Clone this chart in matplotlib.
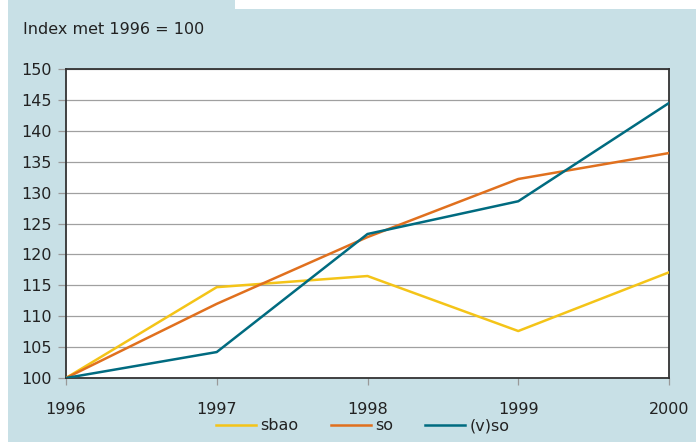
import matplotlib
matplotlib.use("Agg")
import matplotlib.pyplot as plt
from matplotlib.patches import Rectangle

years = [1996, 1997, 1998, 1999, 2000]
sbao = [100, 114.7, 116.5, 107.6, 117.1]
so = [100, 112.0, 122.8, 132.2, 136.4]
vso = [100, 104.2, 123.3, 128.6, 144.5]
yticks = [100, 105, 110, 115, 120, 125, 130, 135, 140, 145, 150]

bg = '#c8e0e6'
txt = '#222222'
plt.rcParams['font.family'] = ['DejaVu Sans']

fig = plt.figure(figsize=(6.96, 4.42), dpi=100)
fig.patch.set_facecolor('white')
# blue panel with white notch at the top right
fig.patches.append(Rectangle((8/696, 0), 1, 1, transform=fig.transFigure,
                             facecolor=bg, edgecolor='none', zorder=-2))
fig.patches.append(Rectangle((235/696, 1-9/442), 1, 9/442, transform=fig.transFigure,
                             facecolor='white', edgecolor='none', zorder=-1))

ax = fig.add_axes([66/696, 64/442, 603/696, 309/442])
ax.set_facecolor('white')
ax.plot(years, sbao, color='#f4c418', lw=1.8, label='sbao', zorder=3)
ax.plot(years, so, color='#e0701e', lw=1.8, label='so', zorder=3)
ax.plot(years, vso, color='#006b80', lw=1.8, label='(v)so', zorder=4)

ax.set_xlim(1996, 2000)
ax.set_ylim(100, 150)
ax.set_xticks(years)
ax.set_yticks(yticks)
ax.yaxis.grid(True, color='#a0a0a0', lw=0.9)
ax.set_axisbelow(True)
for s in ax.spines.values():
    s.set_color('#333333')
    s.set_linewidth(1.3)
ax.tick_params(axis='y', length=6, color='#999999', width=0.9, pad=4, labelsize=11.5, labelcolor=txt)
ax.tick_params(axis='x', length=5, color='#999999', width=0.9, pad=12, labelsize=11.5, labelcolor=txt)

fig.text(23/696, 1-30/442, 'Index met 1996 = 100', fontsize=11.5, color=txt, va='center', ha='left')

fig.legend(loc='center', bbox_to_anchor=(363/696, 1-426/442), ncol=3, frameon=False,
           fontsize=11.5, handlelength=2.5, handletextpad=0.3, columnspacing=2.0,
           labelcolor=txt)

fig.savefig('out.png', dpi=100, facecolor=fig.get_facecolor())
